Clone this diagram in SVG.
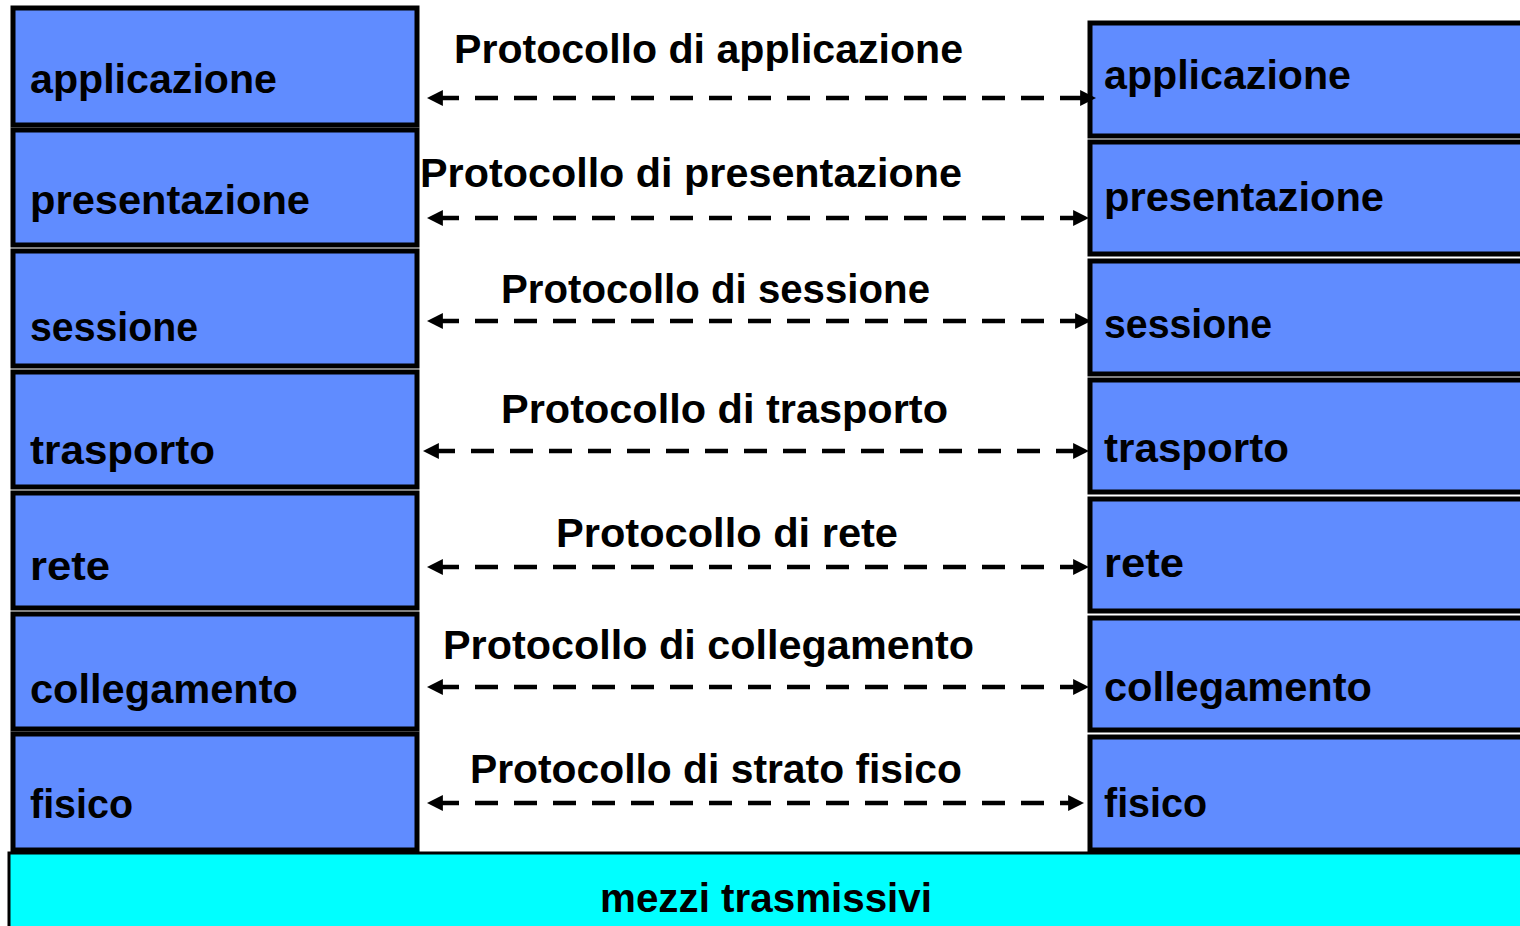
<svg xmlns="http://www.w3.org/2000/svg" width="1520" height="926" viewBox="0 0 1520 926">
<defs>
<style>
.box{fill:#608CFF;stroke:#000;stroke-width:5}
.lbl{font-family:"Liberation Sans",Arial,sans-serif;font-weight:bold;font-size:41px;fill:#000}
.arr{stroke:#000;stroke-width:4.5;stroke-dasharray:23 16;fill:none;marker-start:url(#ah);marker-end:url(#ah)}
.media{fill:#00FFFF;stroke:#000;stroke-width:3}
</style>
<marker id="ah" markerUnits="userSpaceOnUse" markerWidth="16" markerHeight="16" refX="6" refY="7" orient="auto-start-reverse" viewBox="0 0 14 14">
<path d="M0,0 L14,7 L0,14 z" fill="#000"/>
</marker>
</defs>
<rect width="1520" height="926" fill="#fff"/>

<g id="media">
<rect class="media" x="9" y="853" width="1520" height="80"/>
<text class="lbl" x="766" y="912" text-anchor="middle" textLength="332" lengthAdjust="spacingAndGlyphs">mezzi trasmissivi</text>
</g>

<g id="left-applicazione"><rect class="box" x="13" y="8" width="404" height="117"/><text class="lbl" x="30" y="93" textLength="247" lengthAdjust="spacingAndGlyphs">applicazione</text></g>
<g id="left-presentazione"><rect class="box" x="13" y="130" width="404" height="115"/><text class="lbl" x="30" y="214" textLength="280" lengthAdjust="spacingAndGlyphs">presentazione</text></g>
<g id="left-sessione"><rect class="box" x="13" y="251" width="404" height="115"/><text class="lbl" x="30" y="341" textLength="168" lengthAdjust="spacingAndGlyphs">sessione</text></g>
<g id="left-trasporto"><rect class="box" x="13" y="372" width="404" height="115"/><text class="lbl" x="30" y="464" textLength="185" lengthAdjust="spacingAndGlyphs">trasporto</text></g>
<g id="left-rete"><rect class="box" x="13" y="493" width="404" height="115"/><text class="lbl" x="30" y="580" textLength="80" lengthAdjust="spacingAndGlyphs">rete</text></g>
<g id="left-collegamento"><rect class="box" x="13" y="614" width="404" height="115"/><text class="lbl" x="30" y="703" textLength="268" lengthAdjust="spacingAndGlyphs">collegamento</text></g>
<g id="left-fisico"><rect class="box" x="13" y="734" width="404" height="116"/><text class="lbl" x="30" y="818" textLength="103" lengthAdjust="spacingAndGlyphs">fisico</text></g>

<g id="right-applicazione"><rect class="box" x="1090" y="23" width="440" height="113"/><text class="lbl" x="1104" y="89" textLength="247" lengthAdjust="spacingAndGlyphs">applicazione</text></g>
<g id="right-presentazione"><rect class="box" x="1090" y="142" width="440" height="112"/><text class="lbl" x="1104" y="211" textLength="280" lengthAdjust="spacingAndGlyphs">presentazione</text></g>
<g id="right-sessione"><rect class="box" x="1090" y="261" width="440" height="113"/><text class="lbl" x="1104" y="338" textLength="168" lengthAdjust="spacingAndGlyphs">sessione</text></g>
<g id="right-trasporto"><rect class="box" x="1090" y="380" width="440" height="112"/><text class="lbl" x="1104" y="462" textLength="185" lengthAdjust="spacingAndGlyphs">trasporto</text></g>
<g id="right-rete"><rect class="box" x="1090" y="499" width="440" height="112"/><text class="lbl" x="1104" y="577" textLength="80" lengthAdjust="spacingAndGlyphs">rete</text></g>
<g id="right-collegamento"><rect class="box" x="1090" y="618" width="440" height="112"/><text class="lbl" x="1104" y="701" textLength="268" lengthAdjust="spacingAndGlyphs">collegamento</text></g>
<g id="right-fisico"><rect class="box" x="1090" y="737" width="440" height="113"/><text class="lbl" x="1104" y="817" textLength="103" lengthAdjust="spacingAndGlyphs">fisico</text></g>

<g id="protocol-labels">
<text class="lbl" x="454" y="63" textLength="509" lengthAdjust="spacingAndGlyphs">Protocollo di applicazione</text>
<text class="lbl" x="420" y="187" textLength="542" lengthAdjust="spacingAndGlyphs">Protocollo di presentazione</text>
<text class="lbl" x="501" y="303" textLength="429" lengthAdjust="spacingAndGlyphs">Protocollo di sessione</text>
<text class="lbl" x="501" y="423" textLength="447" lengthAdjust="spacingAndGlyphs">Protocollo di trasporto</text>
<text class="lbl" x="556" y="547" textLength="342" lengthAdjust="spacingAndGlyphs">Protocollo di rete</text>
<text class="lbl" x="443" y="659" textLength="531" lengthAdjust="spacingAndGlyphs">Protocollo di collegamento</text>
<text class="lbl" x="470" y="783" textLength="492" lengthAdjust="spacingAndGlyphs">Protocollo di strato fisico</text>
</g>

<g id="connectors">
<line class="arr" x1="436" y1="98" x2="1087" y2="98"/>
<line class="arr" x1="436" y1="218" x2="1080" y2="218"/>
<line class="arr" x1="436" y1="321" x2="1082" y2="321"/>
<line class="arr" x1="432" y1="451" x2="1080" y2="451"/>
<line class="arr" x1="436" y1="567" x2="1080" y2="567"/>
<line class="arr" x1="436" y1="687" x2="1080" y2="687"/>
<line class="arr" x1="436" y1="803" x2="1075" y2="803"/>
</g>
</svg>
